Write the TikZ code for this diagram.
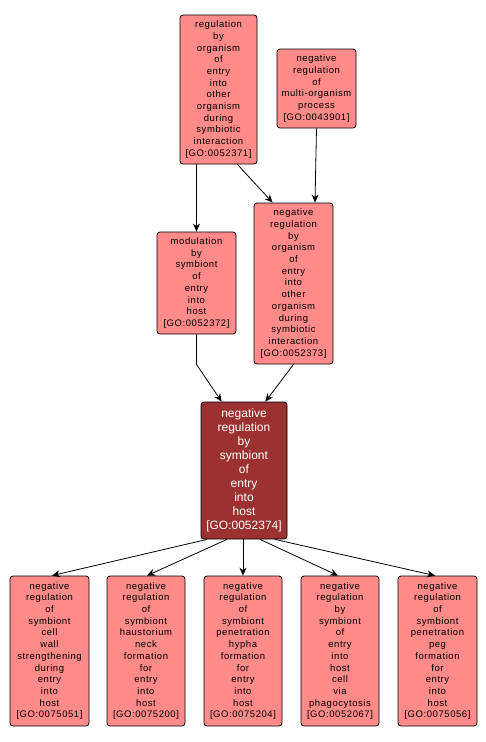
\documentclass[tikz,border=0pt]{standalone}
\usepackage{fontspec}
\setmainfont{Liberation Sans}
\newfontfamily\gofont[LetterSpace=6]{Liberation Sans}
\usetikzlibrary{arrows.meta}

\definecolor{termfill}{RGB}{255,138,138}
\definecolor{focusfill}{RGB}{155,49,49}

\begin{document}
\begin{tikzpicture}[>={Stealth[length=8pt,width=7pt]},x=1pt,y=-1pt,line width=0.8pt,
    term/.style={draw=black,fill=termfill,rounded corners=3pt,align=center,inner sep=0pt,
        font=\gofont\fontsize{9.5}{11.7}\selectfont},
    focus/.style={draw=black,fill=focusfill,text=white,rounded corners=3pt,align=center,inner sep=0pt,
        font=\fontsize{12}{14}\selectfont}]

    \useasboundingbox [fill=white] (0,0) rectangle (486,742);

    % Top row
    \node [term,minimum width=77,minimum height=149] (orgentry) at (218.5,89.5)
        {regulation\\by\\organism\\of\\entry\\into\\other\\organism\\during\\symbiotic\\interaction\\{[GO:0052371]}};
    \node [term,minimum width=79,minimum height=79] (multiorg) at (316.5,88.5)
        {negative\\regulation\\of\\multi-organism\\process\\{[GO:0043901]}};

    % Middle row
    \node [term,minimum width=79,minimum height=102] (modhost) at (196.5,283)
        {modulation\\by\\symbiont\\of\\entry\\into\\host\\{[GO:0052372]}};
    \node [term,minimum width=79,minimum height=161] (negorgentry) at (293.5,283.5)
        {negative\\regulation\\by\\organism\\of\\entry\\into\\other\\organism\\during\\symbiotic\\interaction\\{[GO:0052373]}};

    % Focus term
    \node [focus,minimum width=86,minimum height=137] (neghost) at (244,470.5)
        {negative\\regulation\\by\\symbiont\\of\\entry\\into\\host\\{[GO:0052374]}};

    % Bottom row
    \node [term,minimum width=79,minimum height=150] (cellwall) at (49.5,651)
        {negative\\regulation\\of\\symbiont\\cell\\wall\\strengthening\\during\\entry\\into\\host\\{[GO:0075051]}};
    \node [term,minimum width=78,minimum height=150] (haustorium) at (146,651)
        {negative\\regulation\\of\\symbiont\\haustorium\\neck\\formation\\for\\entry\\into\\host\\{[GO:0075200]}};
    \node [term,minimum width=78,minimum height=150] (hypha) at (243,651)
        {negative\\regulation\\of\\symbiont\\penetration\\hypha\\formation\\for\\entry\\into\\host\\{[GO:0075204]}};
    \node [term,minimum width=78,minimum height=150] (phago) at (340,651)
        {negative\\regulation\\by\\symbiont\\of\\entry\\into\\host\\cell\\via\\phagocytosis\\{[GO:0052067]}};
    \node [term,minimum width=79,minimum height=150] (peg) at (437.5,651)
        {negative\\regulation\\of\\symbiont\\penetration\\peg\\formation\\for\\entry\\into\\host\\{[GO:0075056]}};

    % Edges into middle row
    \draw [->] (orgentry.south -| modhost.north) -- (modhost.north);
    \draw [->] ([xshift=-20pt]orgentry.south east) -- ([xshift=19pt]negorgentry.north west);
    \draw [->] (multiorg.south) -- ([xshift=21.5pt]negorgentry.north);

    % Edges into focus term
    \draw [->] (modhost.south) -- ++(0,30) -- ([xshift=21pt]neghost.north west);
    \draw [->] (negorgentry.south) -- ([xshift=-22pt]neghost.north east);

    % Edges out of focus term
    \draw [->] ([xshift=-37pt]neghost.south) -- ([xshift=2.5pt]cellwall.north);
    \draw [->] ([xshift=-17pt]neghost.south) -- ([xshift=1pt]haustorium.north);
    \draw [->] ([xshift=-1pt]neghost.south) -- (hypha.north);
    \draw [->] ([xshift=16pt]neghost.south) -- ([xshift=-2pt]phago.north);
    \draw [->] ([xshift=31pt]neghost.south) -- ([xshift=-2.5pt]peg.north);

\end{tikzpicture}
\end{document}
